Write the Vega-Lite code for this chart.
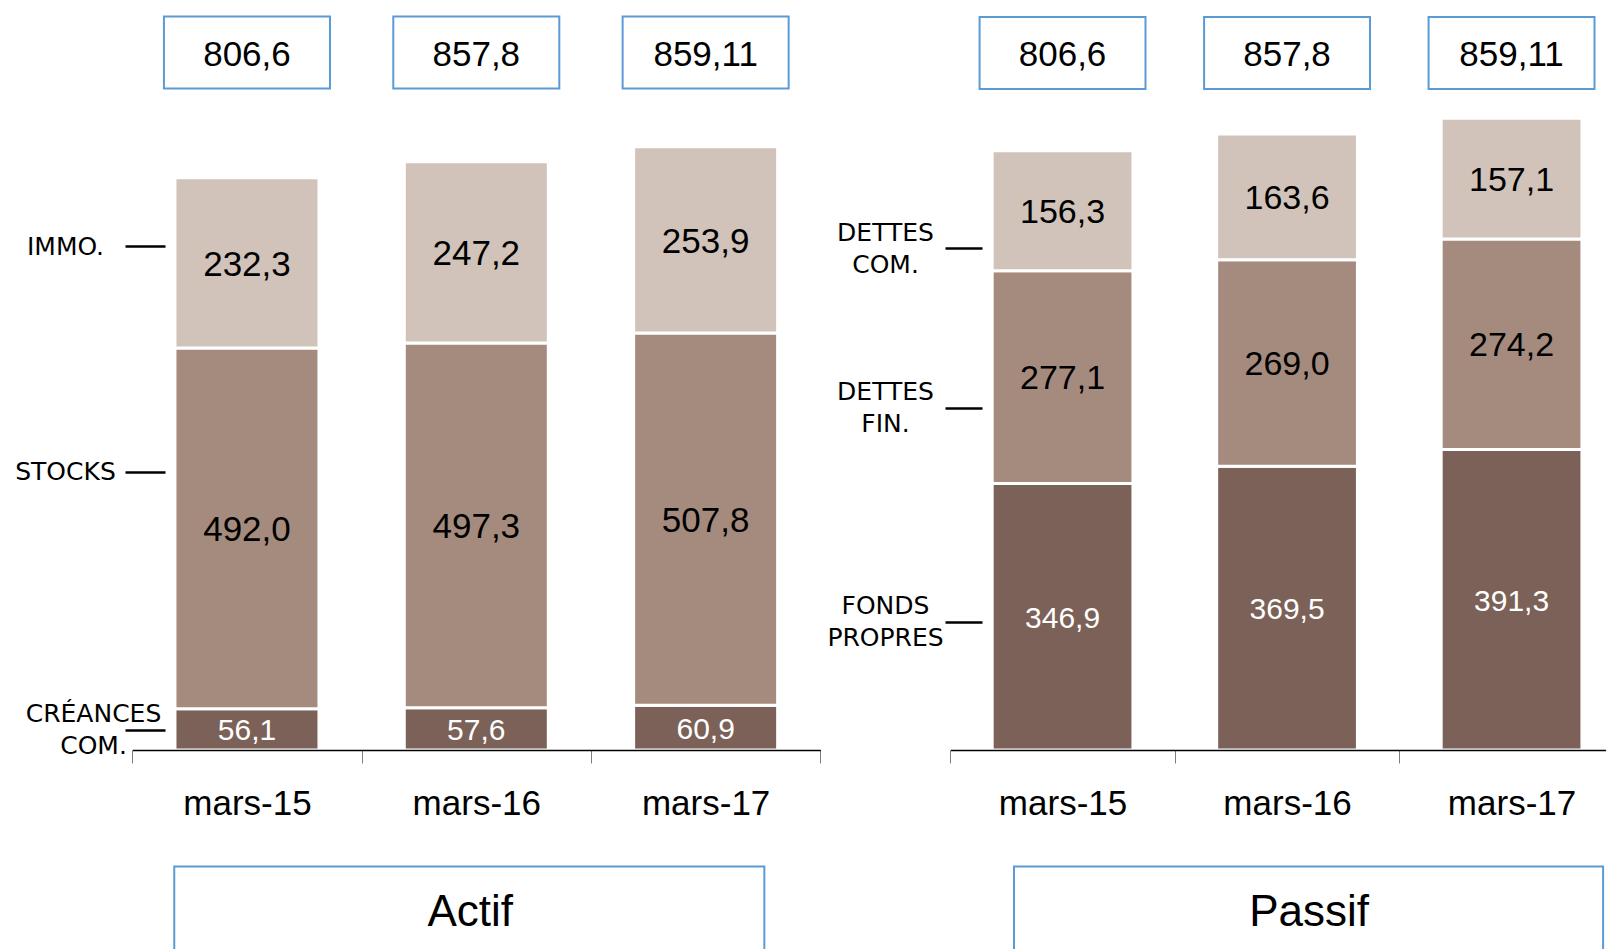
{
  "$schema": "https://vega.github.io/schema/vega-lite/v6.json",
  "width": 1606,
  "height": 750,
  "autosize": {"type": "none"},
  "padding": {"left": 0, "top": 0, "right": 0, "bottom": 199},
  "background": "white",
  "config": {
    "view": {"stroke": null},
    "locale": {"number": {"decimal": ",", "thousands": " ", "grouping": [3], "currency": ["", " €"]}}
  },
  "datasets": {
    "actif": [
      {"periode": "mars-15", "poste": "Créances Com.", "ordre": 1, "valeur": 56.1},
      {"periode": "mars-15", "poste": "Stocks", "ordre": 2, "valeur": 492.0},
      {"periode": "mars-15", "poste": "Immo.", "ordre": 3, "valeur": 232.3},
      {"periode": "mars-16", "poste": "Créances Com.", "ordre": 1, "valeur": 57.6},
      {"periode": "mars-16", "poste": "Stocks", "ordre": 2, "valeur": 497.3},
      {"periode": "mars-16", "poste": "Immo.", "ordre": 3, "valeur": 247.2},
      {"periode": "mars-17", "poste": "Créances Com.", "ordre": 1, "valeur": 60.9},
      {"periode": "mars-17", "poste": "Stocks", "ordre": 2, "valeur": 507.8},
      {"periode": "mars-17", "poste": "Immo.", "ordre": 3, "valeur": 253.9}
    ],
    "passif": [
      {"periode": "mars-15", "poste": "Fonds propres", "ordre": 1, "valeur": 346.9},
      {"periode": "mars-15", "poste": "Dettes Fin.", "ordre": 2, "valeur": 277.1},
      {"periode": "mars-15", "poste": "Dettes Com.", "ordre": 3, "valeur": 156.3},
      {"periode": "mars-16", "poste": "Fonds propres", "ordre": 1, "valeur": 369.5},
      {"periode": "mars-16", "poste": "Dettes Fin.", "ordre": 2, "valeur": 269.0},
      {"periode": "mars-16", "poste": "Dettes Com.", "ordre": 3, "valeur": 163.6},
      {"periode": "mars-17", "poste": "Fonds propres", "ordre": 1, "valeur": 391.3},
      {"periode": "mars-17", "poste": "Dettes Fin.", "ordre": 2, "valeur": 274.2},
      {"periode": "mars-17", "poste": "Dettes Com.", "ordre": 3, "valeur": 157.1}
    ],
    "totaux": [
      {"periode": "mars-15", "libelle": "806,6"},
      {"periode": "mars-16", "libelle": "857,8"},
      {"periode": "mars-17", "libelle": "859,11"}
    ]
  },
  "layer": [
    {
      "layer": [
        {
          "data": {"name": "actif"},
          "mark": {"type": "bar", "width": {"band": 0.628}, "stroke": "white", "strokeWidth": 3},
          "encoding": {
            "x": {
              "field": "periode", "type": "nominal",
              "scale": {"range": [132.3, 820.3], "paddingInner": 0, "paddingOuter": 0},
              "axis": {
                "title": null, "orient": "bottom", "tickBand": "extent", "tickSize": 13,
                "tickColor": "#7f7f7f", "tickWidth": 1, "domainColor": "black", "domainWidth": 1.5,
                "labelFont": "Liberation Sans, Arial, sans-serif",
                "labelFontSize": 35, "labelColor": "black", "labelPadding": 23, "labelBaseline": "top",
                "labelAngle": 0, "labelOverlap": false, "zindex": 1
              }
            },
            "y": {
              "field": "valeur", "type": "quantitative", "stack": "zero",
              "scale": {"domain": [0, 1022.7], "nice": false, "zero": true},
              "axis": {
                "title": null, "orient": "left", "offset": -165, "domain": false, "grid": false,
                "values": [687.2, 379.1, 27.3], "tickSize": 40, "tickWidth": 2.5, "tickColor": "black",
                "labelExpr": "datum.value > 500 ? 'IMMO.' : datum.value > 200 ? 'STOCKS' : ['CRÉANCES', 'COM.']",
                "labelFont": "DejaVu Sans", "labelFontSize": 25, "labelColor": "black", "labelAlign": "center",
                "labelBaseline": "middle",
                "labelPadding": {"condition": {"test": "datum.value < 100", "value": 32}, "value": 60},
                "labelOffset": {"condition": {"test": "datum.value < 100", "value": -16}, "value": 0},
                "labelLineHeight": 32, "labelOverlap": false, "zindex": 1
              }
            },
            "color": {
              "field": "poste", "type": "nominal", "legend": null,
              "scale": {"domain": ["Créances Com.", "Stocks", "Immo."], "range": ["#7B6157", "#A58B7E", "#D1C3BA"]}
            },
            "order": {"field": "ordre", "type": "quantitative"}
          }
        },
        {
          "data": {"name": "actif"},
          "transform": [
            {"stack": "valeur", "groupby": ["periode"], "sort": [{"field": "ordre", "order": "ascending"}], "as": ["v0", "v1"]},
            {"fold": ["v0", "v1"], "as": ["bord", "pos"]},
            {"aggregate": [{"op": "mean", "field": "pos", "as": "milieu"}], "groupby": ["periode", "poste", "ordre", "valeur"]}
          ],
          "mark": {"type": "text", "font": "Liberation Sans, Arial, sans-serif", "baseline": "middle", "align": "center", "dy": 2},
          "encoding": {
            "x": {"field": "periode", "type": "nominal"},
            "y": {"field": "milieu", "type": "quantitative"},
            "text": {"field": "valeur", "type": "quantitative", "format": ".1f"},
            "color": {"condition": {"test": "datum.ordre === 1", "value": "white"}, "value": "black"},
            "size": {"condition": {"test": "datum.ordre === 1", "value": 30}, "value": 35}
          }
        },
        {
          "data": {"name": "totaux"},
          "mark": {"type": "bar", "width": {"band": 0.724}, "fill": "white", "stroke": "#5B9BD5", "strokeWidth": 2},
          "encoding": {
            "x": {"field": "periode", "type": "nominal"},
            "y": {"datum": 1000.1},
            "y2": {"datum": 902}
          }
        },
        {
          "data": {"name": "totaux"},
          "mark": {"type": "text", "font": "Liberation Sans, Arial, sans-serif", "fontSize": 35, "baseline": "middle", "color": "black"},
          "encoding": {
            "x": {"field": "periode", "type": "nominal"},
            "y": {"datum": 947.5},
            "text": {"field": "libelle", "type": "nominal"}
          }
        },
        {
          "data": {"values": [{"groupe": "Actif"}]},
          "mark": {"type": "bar", "width": {"band": 2.573}, "xOffset": -7, "fill": "white", "stroke": "#5B9BD5", "strokeWidth": 2},
          "encoding": {
            "x": {"datum": "mars-16"},
            "y": {"datum": -158.9},
            "y2": {"datum": -300}
          }
        },
        {
          "data": {"values": [{"groupe": "Actif"}]},
          "mark": {"type": "text", "font": "Liberation Sans, Arial, sans-serif", "fontSize": 44, "baseline": "middle", "xOffset": -6, "color": "black"},
          "encoding": {
            "x": {"datum": "mars-16"},
            "y": {"datum": -222.3},
            "text": {"field": "groupe", "type": "nominal"}
          }
        }
      ]
    },
    {
      "layer": [
        {
          "data": {"name": "passif"},
          "mark": {"type": "bar", "width": {"band": 0.627}, "stroke": "white", "strokeWidth": 3},
          "encoding": {
            "x": {
              "field": "periode", "type": "nominal",
              "scale": {"range": [950.3, 1623.8], "paddingInner": 0, "paddingOuter": 0},
              "axis": {
                "title": null, "orient": "bottom", "tickBand": "extent", "tickSize": 13,
                "tickColor": "#7f7f7f", "tickWidth": 1, "domainColor": "black", "domainWidth": 1.5,
                "labelFont": "Liberation Sans, Arial, sans-serif",
                "labelFontSize": 35, "labelColor": "black", "labelPadding": 23, "labelBaseline": "top",
                "labelAngle": 0, "labelOverlap": false, "zindex": 1
              }
            },
            "y": {
              "field": "valeur", "type": "quantitative", "stack": "zero",
              "scale": {"domain": [0, 976.6], "nice": false, "zero": true},
              "axis": {
                "title": null, "orient": "left", "offset": -982, "domain": false, "grid": false,
                "values": [653.6, 445.8, 167.1], "tickSize": 37, "tickWidth": 2.5, "tickColor": "black",
                "labelExpr": "datum.value > 550 ? ['DETTES', 'COM.'] : datum.value > 300 ? ['DETTES', 'FIN.'] : ['FONDS', 'PROPRES']",
                "labelFont": "DejaVu Sans", "labelFontSize": 25, "labelColor": "black", "labelAlign": "center",
                "labelBaseline": "middle", "labelPadding": 60, "labelOffset": -16,
                "labelLineHeight": 32, "labelOverlap": false, "zindex": 1
              }
            },
            "color": {
              "field": "poste", "type": "nominal", "legend": null,
              "scale": {"domain": ["Fonds propres", "Dettes Fin.", "Dettes Com."], "range": ["#7B6157", "#A58B7E", "#D1C3BA"]}
            },
            "order": {"field": "ordre", "type": "quantitative"}
          }
        },
        {
          "data": {"name": "passif"},
          "transform": [
            {"stack": "valeur", "groupby": ["periode"], "sort": [{"field": "ordre", "order": "ascending"}], "as": ["v0", "v1"]},
            {"fold": ["v0", "v1"], "as": ["bord", "pos"]},
            {"aggregate": [{"op": "mean", "field": "pos", "as": "milieu"}], "groupby": ["periode", "poste", "ordre", "valeur"]}
          ],
          "mark": {"type": "text", "font": "Liberation Sans, Arial, sans-serif", "baseline": "middle", "align": "center", "dy": 2},
          "encoding": {
            "x": {"field": "periode", "type": "nominal"},
            "y": {"field": "milieu", "type": "quantitative"},
            "text": {"field": "valeur", "type": "quantitative", "format": ".1f"},
            "color": {"condition": {"test": "datum.ordre === 1", "value": "white"}, "value": "black"},
            "size": {"condition": {"test": "datum.ordre === 1", "value": 30}, "value": 34}
          }
        },
        {
          "data": {"name": "totaux"},
          "mark": {"type": "bar", "width": {"band": 0.739}, "fill": "white", "stroke": "#5B9BD5", "strokeWidth": 2},
          "encoding": {
            "x": {"field": "periode", "type": "nominal"},
            "y": {"datum": 954.4},
            "y2": {"datum": 860.7}
          }
        },
        {
          "data": {"name": "totaux"},
          "mark": {"type": "text", "font": "Liberation Sans, Arial, sans-serif", "fontSize": 35, "baseline": "middle", "color": "black"},
          "encoding": {
            "x": {"field": "periode", "type": "nominal"},
            "y": {"datum": 905.6},
            "text": {"field": "libelle", "type": "nominal"}
          }
        },
        {
          "data": {"values": [{"groupe": "Passif"}]},
          "mark": {"type": "bar", "width": {"band": 2.624}, "xOffset": 21.5, "fill": "white", "stroke": "#5B9BD5", "strokeWidth": 2},
          "encoding": {
            "x": {"datum": "mars-16"},
            "y": {"datum": -151.7},
            "y2": {"datum": -300}
          }
        },
        {
          "data": {"values": [{"groupe": "Passif"}]},
          "mark": {"type": "text", "font": "Liberation Sans, Arial, sans-serif", "fontSize": 44, "baseline": "middle", "xOffset": 22, "color": "black"},
          "encoding": {
            "x": {"datum": "mars-16"},
            "y": {"datum": -212.2},
            "text": {"field": "groupe", "type": "nominal"}
          }
        }
      ]
    }
  ],
  "resolve": {
    "scale": {"x": "independent", "y": "independent", "color": "independent"},
    "axis": {"x": "independent", "y": "independent"}
  }
}
